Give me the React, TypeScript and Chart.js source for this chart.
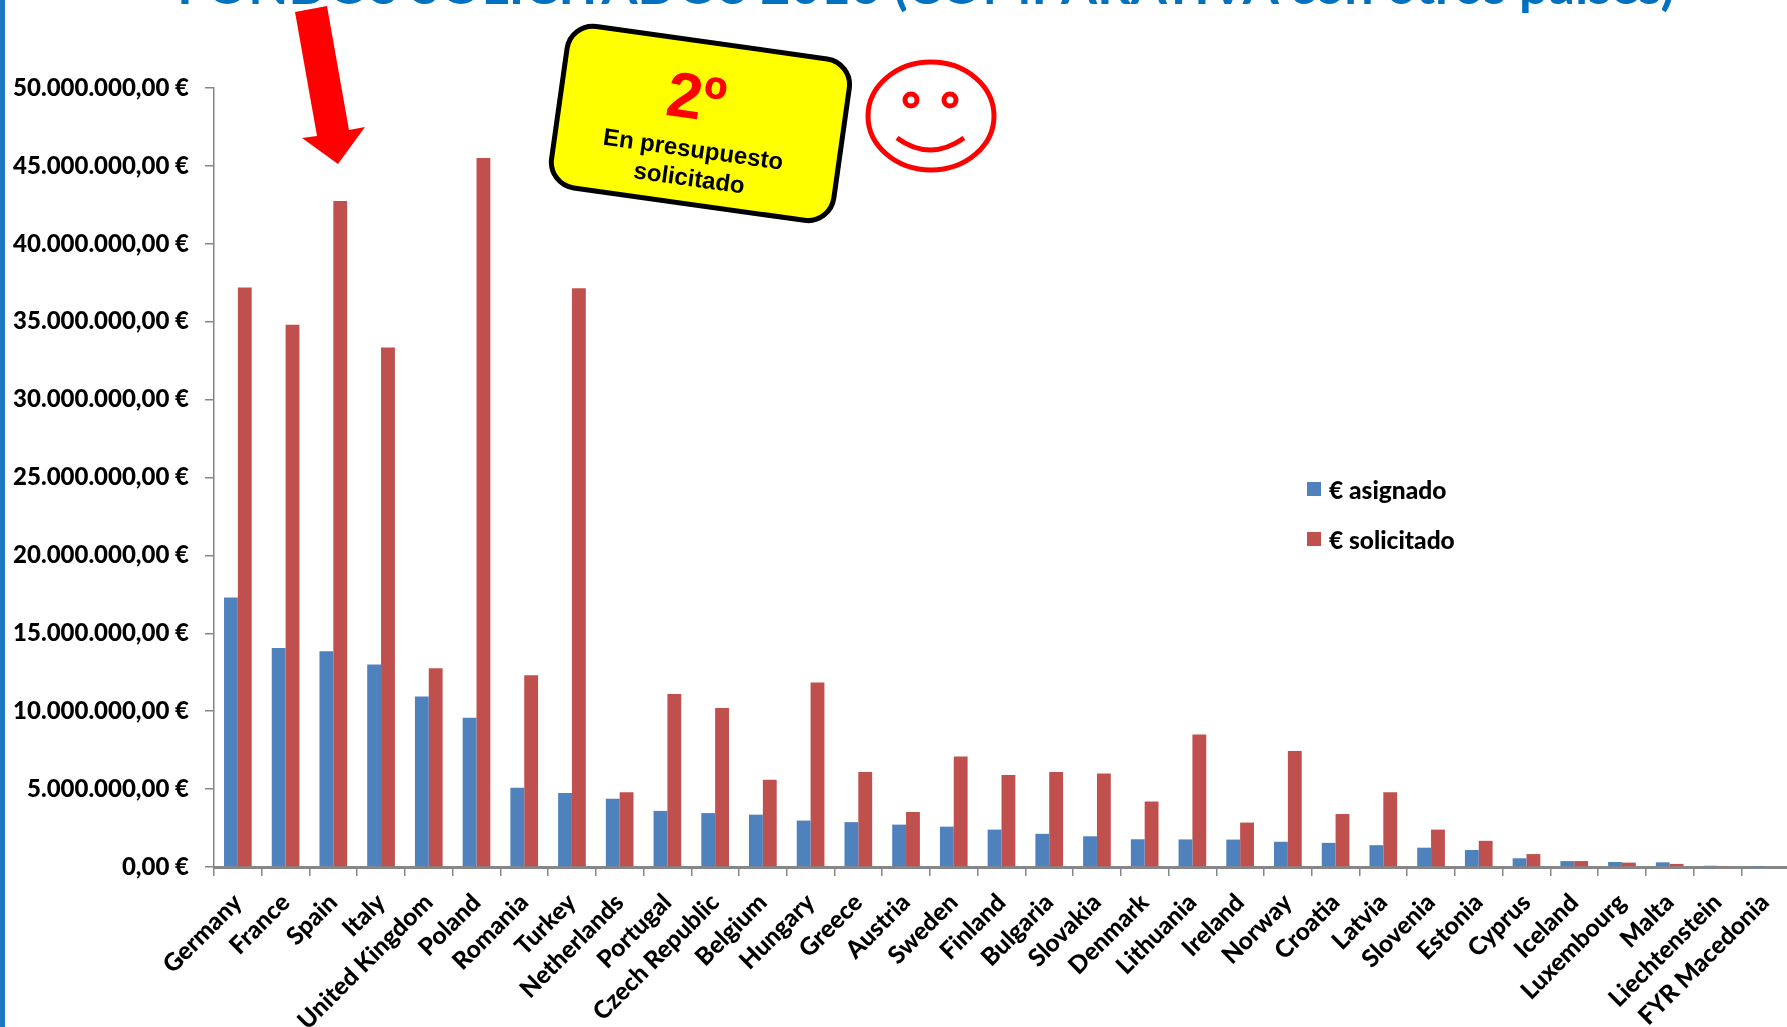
import React, { useEffect, useRef } from "react";
import { Chart, registerables } from "chart.js";

Chart.register(...registerables);

const categories = ["Germany","France","Spain","Italy","United Kingdom","Poland","Romania","Turkey","Netherlands","Portugal","Czech Republic","Belgium","Hungary","Greece","Austria","Sweden","Finland","Bulgaria","Slovakia","Denmark","Lithuania","Ireland","Norway","Croatia","Latvia","Slovenia","Estonia","Cyprus","Iceland","Luxembourg","Malta","Liechtenstein","FYR Macedonia"];
const asignado = [17300000,14050000,13850000,13000000,10950000,9580000,5080000,4750000,4380000,3600000,3460000,3360000,2980000,2880000,2720000,2590000,2400000,2130000,1970000,1780000,1770000,1760000,1620000,1550000,1400000,1240000,1090000,560000,380000,320000,300000,80000,10000];
const solicitado = [37200000,34800000,42750000,33350000,12750000,45500000,12300000,37150000,4800000,11100000,10200000,5600000,11850000,6100000,3530000,7100000,5900000,6100000,6000000,4200000,8500000,2850000,7450000,3400000,4800000,2400000,1680000,830000,380000,280000,200000,60000,0];
const seriesNames = ["€ asignado", "€ solicitado"];
const seriesColors = ["#4F81BD", "#C0504D"];
const titleText = "FONDOS SOLICITADOS 2016 (COMPARATIVA con otros países)";
const FONT = "Lato, 'Open Sans', sans-serif";

const euro = (v: number) =>
  new Intl.NumberFormat("de-DE", { minimumFractionDigits: 2, maximumFractionDigits: 2 }).format(v) + " €";

export default function App() {
  const ref = useRef<HTMLCanvasElement>(null);
  useEffect(() => {
    document.body.style.margin = "0";
    document.body.style.overflow = "hidden";
    const chart = new Chart(ref.current!, {
      type: "bar",
      data: {
        labels: categories,
        datasets: [
          { label: seriesNames[0], data: asignado, backgroundColor: seriesColors[0] },
          { label: seriesNames[1], data: solicitado, backgroundColor: seriesColors[1] },
        ],
      },
      options: {
        responsive: false,
        animation: false,
        layout: { padding: { top: 88, right: 11, left: 0, bottom: 0 } },
        datasets: { bar: { categoryPercentage: 0.58, barPercentage: 1 } },
        plugins: { legend: { display: false }, title: { display: false }, tooltip: { enabled: false } },
        scales: {
          x: {
            grid: { drawOnChartArea: false, drawTicks: true, tickLength: 9, color: "#868686", lineWidth: 1.5 },
            border: { color: "#868686", width: 3 },
            ticks: {
              autoSkip: false,
              minRotation: 45,
              maxRotation: 45,
              padding: 12,
              color: "#000",
              font: { family: FONT, weight: "900", size: 24.5 },
            },
            afterFit: (s: any) => { s.height = 160; s.paddingLeft = 0; s.paddingRight = 0; },
          },
          y: {
            min: 0,
            max: 50000000,
            grid: { drawOnChartArea: false, drawTicks: true, tickLength: 9, color: "#868686", lineWidth: 1.5 },
            border: { color: "#868686", width: 1.5 },
            ticks: {
              stepSize: 5000000,
              padding: 16,
              color: "#000",
              font: { family: FONT, weight: "900", size: 24 },
              callback: (v: any) => euro(Number(v)),
            },
            afterFit: (s: any) => { s.width = 214; },
          },
        },
      },
    } as any);
    return () => chart.destroy();
  }, []);

  return (
    <div style={{ position: "relative", width: 1787, height: 1027, overflow: "hidden", background: "#fff" }}>
      <canvas ref={ref} width={1800} height={1027} style={{ position: "absolute", left: 0, top: 0 }} />
      <svg width={1787} height={1027} style={{ position: "absolute", left: 0, top: 0 }}>
        <rect x={0} y={0} width={5} height={1027} fill="#1F77C0" />
        <text x={926} y={4} textAnchor="middle" fill="#0070C0" fontFamily={FONT} fontWeight={700} fontSize={52}>{titleText}</text>
        <polygon points="295,12 327,6 349,130 365,127 338,164 302,138 317,136" fill="#FF0000" />
        <g transform="rotate(8 701 123)">
          <rect x={558} y={42} width={285} height={163} rx={26} fill="#FFFF00" stroke="#000" strokeWidth={5} />
          <text x={693} y={120} textAnchor="middle" fill="#FF0000" fontFamily="'Liberation Sans', Arial" fontWeight={700} fontSize={64}>2º</text>
          <text x={697} y={158} textAnchor="middle" fill="#000" fontFamily="'Liberation Sans', Arial" fontWeight={700} fontSize={24}>En presupuesto</text>
          <text x={697} y={187} textAnchor="middle" fill="#000" fontFamily="'Liberation Sans', Arial" fontWeight={700} fontSize={24}>solicitado</text>
        </g>
        <ellipse cx={931} cy={116} rx={63} ry={54} fill="none" stroke="#FF0000" strokeWidth={5} />
        <ellipse cx={911} cy={100} rx={6} ry={6} fill="none" stroke="#FF0000" strokeWidth={5} />
        <ellipse cx={950} cy={100} rx={6} ry={6} fill="none" stroke="#FF0000" strokeWidth={5} />
        <path d="M897 138 Q930 162 964 138" fill="none" stroke="#FF0000" strokeWidth={5} />
      </svg>
      {seriesNames.map((n, i) => (
        <div key={n} style={{ position: "absolute", left: 1307, top: 474 + i * 50, height: 30, display: "flex", alignItems: "center", fontFamily: FONT, fontWeight: 900, fontSize: 24.5, color: "#000" }}>
          <span style={{ width: 14, height: 14, background: seriesColors[i], marginRight: 8, display: "inline-block" }} />
          {n}
        </div>
      ))}
    </div>
  );
}
